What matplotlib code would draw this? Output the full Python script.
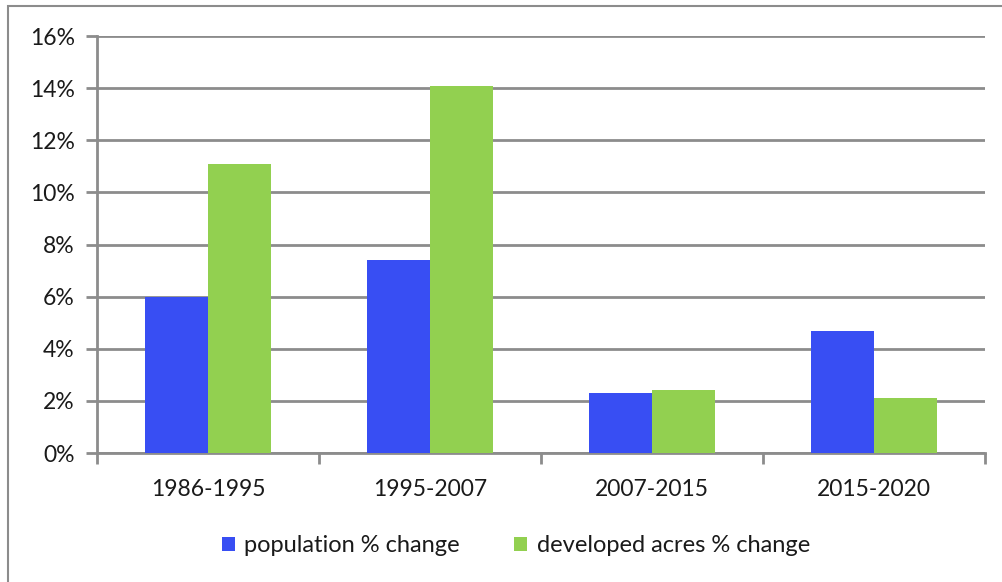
import matplotlib.pyplot as plt
import numpy as np
from matplotlib.patches import Rectangle

plt.rcParams['font.family'] = ['Lato', 'DejaVu Sans']

periods = ['1986-1995', '1995-2007', '2007-2015', '2015-2020']
pop_change = [6.0, 7.4, 2.3, 4.7]
acres_change = [11.1, 14.1, 2.4, 2.1]

blue = '#384ef3'
green = '#92d050'
grid_col = '#8c8c8c'

fig = plt.figure(figsize=(10.02, 5.82), dpi=100)
# outer chart border
fig.patches.append(Rectangle((8 / 1002, -0.05), 1.1, 1 - 6 / 582 + 0.05,
                             transform=fig.transFigure, fill=False,
                             edgecolor='#8c8c8c', linewidth=1.5))

ax = fig.add_axes([0.0968, 0.2216, 0.886, 0.7164])
x = np.arange(len(periods))
width = 0.285
ax.bar(x - width / 2, pop_change, width, color=blue, label='population % change', zorder=3)
ax.bar(x + width / 2, acres_change, width, color=green, label='developed acres % change', zorder=3)

ax.set_xlim(-0.5, len(periods) - 0.5)
ax.set_ylim(0, 16)
ax.set_yticks(np.arange(0, 17, 2))
ax.set_yticklabels([f'{v}%' for v in range(0, 17, 2)])
ax.yaxis.grid(True, color=grid_col, linewidth=2, zorder=0)

ax.set_xticks(x)
ax.set_xticklabels(periods)
ax.set_xticks(np.arange(-0.5, len(periods), 1), minor=True)
ax.tick_params(axis='x', which='major', length=0, pad=19, labelsize=16.5, labelcolor='#1a1a1a')
ax.tick_params(axis='x', which='minor', length=8, width=2, color=grid_col)
ax.tick_params(axis='y', length=8, width=2, color=grid_col, labelsize=16.5, labelcolor='#1a1a1a', pad=8)

for side in ['top', 'right']:
    ax.spines[side].set_visible(False)
for side in ['left', 'bottom']:
    ax.spines[side].set_color(grid_col)
    ax.spines[side].set_linewidth(2)

ax.legend(loc='center', bbox_to_anchor=(0.472, -0.222), ncol=2, frameon=False,
          fontsize=17, handlelength=0.55, handleheight=0.55, handletextpad=0.4,
          columnspacing=2.3, labelcolor='#1a1a1a')

fig.savefig('out.png', dpi=100)
